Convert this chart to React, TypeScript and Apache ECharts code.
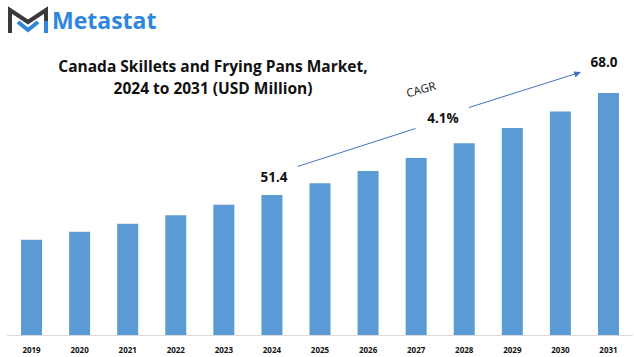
import React, { useEffect, useRef } from "react";
import * as echarts from "echarts";

const years = ["2019", "2020", "2021", "2022", "2023", "2024", "2025", "2026", "2027", "2028", "2029", "2030", "2031"];
const values = [44.1, 45.4, 46.7, 48.1, 49.8, 51.4, 53.3, 55.3, 57.4, 59.8, 62.3, 65.0, 68.0];
const titleLines = ["Canada Skillets and Frying Pans Market,", "2024 to 2031 (USD Million)"];
const startLabel = "51.4";
const endLabel = "68.0";
const cagrLabel = "CAGR";
const cagrValue = "4.1%";
const brand = "Metastat";

export default function App() {
  const ref = useRef<HTMLDivElement>(null);
  useEffect(() => {
    const chart = echarts.init(ref.current!, null, { renderer: "svg" });
    const font = "'Open Sans', 'Liberation Sans', sans-serif";
    chart.setOption({
      animation: false,
      backgroundColor: "#ffffff",
      grid: { left: 7.5, right: 1.5, top: 19.3, bottom: 22 },
      xAxis: {
        type: "category",
        data: years,
        axisLine: { show: true, lineStyle: { color: "#d9d9d9", width: 1 } },
        axisTick: { show: false },
        axisLabel: { color: "#111", fontSize: 8, fontWeight: "bold", fontFamily: font, margin: 10 },
      },
      yAxis: {
        type: "value",
        min: 28.6,
        max: 80,
        show: false,
        splitLine: { show: false },
      },
      series: [
        {
          type: "bar",
          data: values,
          barWidth: 21,
          itemStyle: { color: "#5B9BD5" },
        },
      ],
      graphic: [
        {
          type: "text",
          x: 213,
          y: 66,
          style: {
            text: titleLines[0],
            fontSize: 15.5,
            fontWeight: "bold",
            fontFamily: font,
            fill: "#111",
            align: "center",
            verticalAlign: "middle",
          },
        },
        {
          type: "text",
          x: 213,
          y: 88,
          style: {
            text: titleLines[1],
            fontSize: 15.5,
            fontWeight: "bold",
            fontFamily: font,
            fill: "#111",
            align: "center",
            verticalAlign: "middle",
          },
        },
        {
          type: "text",
          x: 274,
          y: 177,
          style: { text: startLabel, fontSize: 13.5, fontWeight: "bold", fontFamily: font, fill: "#111", align: "center", verticalAlign: "middle" },
        },
        {
          type: "text",
          x: 604,
          y: 62,
          style: { text: endLabel, fontSize: 13.5, fontWeight: "bold", fontFamily: font, fill: "#111", align: "center", verticalAlign: "middle" },
        },
        {
          type: "text",
          x: 443,
          y: 118,
          style: { text: cagrValue, fontSize: 13.5, fontWeight: "bold", fontFamily: font, fill: "#111", align: "center", verticalAlign: "middle" },
        },
        {
          type: "text",
          x: 421,
          y: 89,
          rotation: (16 * Math.PI) / 180,
          style: { text: cagrLabel, fontSize: 11.5, fontFamily: font, fill: "#111", align: "center", verticalAlign: "middle" },
        },
        {
          type: "line",
          shape: { x1: 297.5, y1: 166.5, x2: 415.5, y2: 128.5 },
          style: { stroke: "#4472C4", lineWidth: 1 },
        },
        {
          type: "line",
          shape: { x1: 469, y1: 107.5, x2: 578, y2: 73 },
          style: { stroke: "#4472C4", lineWidth: 1 },
        },
        {
          type: "polygon",
          shape: { points: [[581, 72], [573.5, 71.5], [575.5, 77.5]] },
          style: { fill: "#4472C4" },
        },
        // logo
        {
          type: "polyline",
          shape: { points: [[10, 33], [10, 10], [28, 22], [46, 10], [46, 22]] },
          style: { stroke: "#3a3a3a", lineWidth: 4, fill: null, lineJoin: "miter" },
        },
        {
          type: "polyline",
          shape: { points: [[18, 22], [28, 30], [38, 22]] },
          style: { stroke: "#2E86DE", lineWidth: 4, fill: null, lineJoin: "miter" },
        },
        {
          type: "line",
          shape: { x1: 46, y1: 21, x2: 46, y2: 33 },
          style: { stroke: "#2E86DE", lineWidth: 4 },
        },
        {
          type: "text",
          x: 52,
          y: 20,
          style: { text: brand, fontSize: 23, fontWeight: "bold", fontFamily: font, fill: "#2E86DE", verticalAlign: "middle" },
        },
      ],
    });
    return () => chart.dispose();
  }, []);
  return <div ref={ref} style={{ width: 634, height: 357, position: "absolute", left: 0, top: 0 }} />;
}
